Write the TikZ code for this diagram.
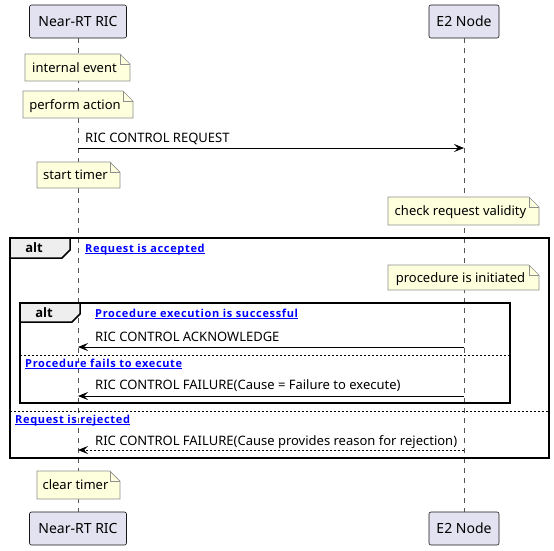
\documentclass[tikz,border=0pt]{standalone}
\usepackage{fontspec}
\setmainfont{Noto Sans}
\newfontfamily\linkfont{Open Sans}[LetterSpace=6]
\newfontfamily\altfont{Open Sans}
\usetikzlibrary{arrows.meta}
\definecolor{partfill}{HTML}{E2E2F0}
\definecolor{partdraw}{HTML}{181818}
\definecolor{notefill}{HTML}{FEFFDD}
\definecolor{notedraw}{HTML}{8E8E8E}
\definecolor{tabfill}{HTML}{EEEEEE}
\definecolor{lifec}{HTML}{555555}
\definecolor{linkc}{HTML}{0000FF}
\tikzset{
  part/.style={draw=partdraw, fill=partfill, rounded corners=2pt, line width=0.6pt, minimum height=33pt, inner sep=0pt, font=\fontsize{14}{16}\selectfont},
  life/.style={draw=lifec, line width=0.6pt, dash pattern=on 5pt off 5pt},
  notebg/.style={draw=notedraw, fill=notefill, line width=0.7pt},
  notetxt/.style={inner sep=0pt, anchor=base, font=\fontsize{13}{15}\selectfont},
  msgtxt/.style={inner sep=0pt, anchor=base west, font=\fontsize{13}{15}\selectfont},
  msg/.style={draw=black, line width=0.8pt, -{Stealth[length=10pt,width=8pt,inset=4pt]}},
  retmsg/.style={msg, dash pattern=on 2pt off 2pt},
  frameline/.style={draw=black, line width=1.5pt},
  tabbox/.style={draw=black, fill=tabfill, line width=1.5pt},
  alttxt/.style={inner sep=0pt, anchor=base, font=\altfont\bfseries\fontsize{13}{15}\selectfont},
  linktxt/.style={inner sep=0pt, anchor=base west, text=linkc, font=\linkfont\bfseries\fontsize{11}{13}\selectfont},
  divline/.style={draw=black, line width=0.8pt, dash pattern=on 2pt off 2pt},
}
\newcommand{\notebox}[6]{%
  \path[notebg] (#2,#3) -- (#4-10,#3) -- (#4,#3+10) -- (#4,#5) -- (#2,#5) -- cycle;
  \draw[notebg, fill=none] (#4-10,#3) -- (#4-10,#3+10) -- (#4,#3+10);
  \node[notetxt] (#1) at ({(#2+#4)/2-3},{(#3+#5)/2+4.5}) {#6};}
\newcommand{\linklabel}[4]{%
  \node[linktxt] (#1) at (#2,#3) {#4};
  \draw[linkc, line width=0.7pt] ([yshift=-1.8pt]#1.base west) -- ([yshift=-1.8pt]#1.base east);}
\begin{document}
\begin{tikzpicture}[x=1pt,y=-1pt]
\useasboundingbox (0,0) rectangle (554,550);
% participants
\node[part, minimum width=97pt] (ricT) at (78,21.5) {Near-RT RIC};
\node[part, minimum width=70pt] (e2T) at (464,21.5) {E2 Node};
\node[part, minimum width=97pt] (ricB) at (78,528.5) {Near-RT RIC};
\node[part, minimum width=70pt] (e2B) at (464,528.5) {E2 Node};
\draw[life] (ricT.south) -- (ricB.north);
\draw[life] (e2T.south) -- (e2B.north);
% notes
\notebox{n1}{25}{54}{130}{81}{internal event}
\notebox{n2}{23}{91}{133}{118}{perform action}
% request
\node[msgtxt] (m1) at (85,142) {RIC CONTROL REQUEST};
\draw[msg] (ricT.south |- 0,148) -- (e2T.south |- 0,148);
\notebox{n3}{37}{162}{120}{188}{start timer}
\notebox{n4}{388}{197}{539}{225}{check request validity}
% outer alt
\draw[frameline] (10,238) rectangle (549,458);
\path[tabbox] (10,238) -- (70,238) -- (70,250) -- (62,258) -- (10,258) -- cycle;
\node[alttxt] (alt1) at (34,252.5) {alt};
\linklabel{g1}{85}{252}{Request is accepted}
\notebox{n5}{388}{265}{539}{290}{procedure is initiated}
% inner alt
\draw[frameline] (20,303) rectangle (510,403);
\path[tabbox] (20,303) -- (80,303) -- (80,314) -- (72,322) -- (20,322) -- cycle;
\node[alttxt] (alt2) at (44,317.5) {alt};
\linklabel{g2}{95}{317}{Procedure execution is successful}
\node[msgtxt] (m2) at (95,341) {RIC CONTROL ACKNOWLEDGE};
\draw[msg] (e2T.south |- 0,347) -- (ricT.south |- 0,347);
\draw[divline] (20,355) -- (510,355);
\linklabel{g3}{25}{367}{Procedure fails to execute}
\node[msgtxt] (m3) at (95,389) {RIC CONTROL FAILURE(Cause = Failure to execute)};
\draw[msg] (e2T.south |- 0,396) -- (ricT.south |- 0,396);
\draw[divline] (10,411) -- (549,411);
\linklabel{g4}{15}{423}{Request is rejected}
\node[msgtxt] (m4) at (95,445) {RIC CONTROL FAILURE(Cause provides reason for rejection)};
\draw[retmsg] (e2T.south |- 0,450) -- (ricT.south |- 0,450);
\notebox{n6}{37}{471}{120}{499}{clear timer}
\end{tikzpicture}
\end{document}
